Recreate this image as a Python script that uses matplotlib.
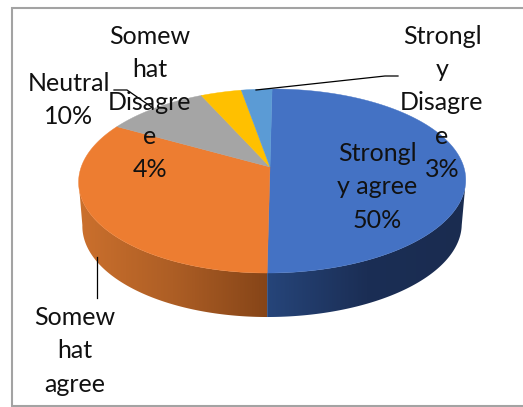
import numpy as np
import matplotlib
matplotlib.use("Agg")
import matplotlib.pyplot as plt
from matplotlib.patches import Polygon, Rectangle
from matplotlib.colors import LinearSegmentedColormap

categories = ["Strongly agree", "Somewhat agree", "Neutral", "Somewhat Disagree", "Strongly Disagree"]
values = [50, 33, 10, 4, 3]
colors = ["#4472C4", "#ED7D31", "#A5A5A5", "#FFC000", "#5B9BD5"]

W, H = 523, 407
plt.rcParams["font.family"] = ["Lato", "DejaVu Sans"]
fig = plt.figure(figsize=(W / 100, H / 100), dpi=100)
ax = fig.add_axes([0, 0, 1, 1])
ax.set_xlim(0, W)
ax.set_ylim(H, 0)
ax.axis("off")

AX, AY = 270, 167          # projected pie centre
B_L, B_R, A, K = 188.8, 193.8, 89.9, 0.152
SHEAR = 0.027
DEPTH, TAPER = 44, 0.98


def top(t):
    u, v = np.sin(t), np.cos(t)
    d = 1 + K * v
    Y = A * v / d
    b = np.where(u < 0, B_L, B_R)
    return AX + b * u / d + SHEAR * Y, AY - Y


def bottom(t):
    x, y = top(t)
    return 267 + (x - 267) * TAPER, y + DEPTH


ax.add_patch(Rectangle((12, 8), 530, 398, fc="white", ec="#a3a3a3", lw=1.5, zorder=0))

edges = np.cumsum([0] + values) / sum(values) * 2 * np.pi

# side wall: gradient clipped to the visible part of each front slice
wall_shades = {
    0: ("#26457A", "#1B2E55", "#1A2C50", 267, 466),
    1: ("#CB702D", "#AD5E25", "#864518", 79, 267),
}
SIL = 0.155  # silhouette angle past the horizontal diameter
for i, (a0, a1) in enumerate(zip(edges[:-1], edges[1:])):
    if i not in wall_shades:
        continue
    lo, hi = max(a0, np.pi * 0.5 + SIL), min(a1, np.pi * 1.5 - SIL)
    ts = np.linspace(lo, hi, 200)
    tx, ty = top(ts)
    bx, by = bottom(ts)
    poly = Polygon(np.r_[np.c_[tx, ty], np.c_[bx, by][::-1]], fc="none", ec="none",
                   transform=ax.transData, zorder=0.5)
    ax.add_patch(poly)
    c0, c1, c2, x0, x1 = wall_shades[i]
    cmap = LinearSegmentedColormap.from_list("w", [c0, c1, c2])
    im = ax.imshow(np.linspace(0, 1, 256)[None, :], cmap=cmap, aspect="auto", zorder=0.5,
                   extent=(x0, x1, by.max() + 2, ty.min() - 2), interpolation="bilinear")
    im.set_clip_path(poly)
ax.set_xlim(0, W)
ax.set_ylim(H, 0)

# top face
for c, a0, a1 in zip(colors, edges[:-1], edges[1:]):
    ts = np.linspace(a0, a1, 200)
    xs, ys = top(ts)
    ax.add_patch(Polygon(np.r_[[[AX, AY]], np.c_[xs, ys]], fc=c, ec=c, lw=0.3, zorder=1))

# leader lines
ax.plot([114, 127, 153], [90, 90, 108], color="black", lw=0.9, zorder=2)
ax.plot([398, 385, 256], [76, 76, 90], color="black", lw=0.9, zorder=2)
ax.plot([97, 97], [257, 298], color="black", lw=0.9, zorder=2)

fs = 18
kw = dict(ha="center", va="center", fontsize=fs, color="#111111", linespacing=1.53, zorder=3)
ax.text(150, 103, "Somew\nhat\nDisagre\ne\n4%", **kw)
ax.text(442, 103, "Strongl\ny\nDisagre\ne\n3%", **kw)
ax.text(69, 100, "Neutral\n10%", **kw)
ax.text(377, 187, "Strongl\ny agree\n50%", **kw)
ax.text(75, 351, "Somew\nhat\nagree", **kw)

fig.savefig("out.png", dpi=100)
